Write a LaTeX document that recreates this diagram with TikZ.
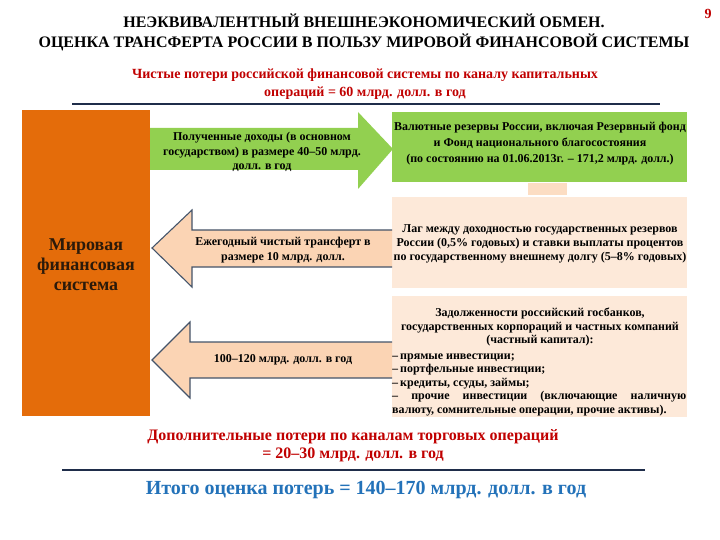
\documentclass[tikz,border=0pt]{standalone}
\usepackage{fontspec}
\setmainfont{Liberation Serif}
\definecolor{orng}{HTML}{E46C0A}
\definecolor{grn}{HTML}{92D050}
\definecolor{peach}{HTML}{FBD4B4}
\definecolor{pale}{HTML}{FDE9D9}
\definecolor{dred}{HTML}{C00000}
\definecolor{navy}{HTML}{1F2D4A}
\definecolor{edge}{HTML}{44546A}
\definecolor{blu}{HTML}{2372B9}
\definecolor{brn}{HTML}{2B1A0A}
\tikzset{
  fs/.style 2 args={font=\bfseries\fontsize{#1}{#2}\selectfont},
  lbl/.style={align=center, inner sep=0pt, fs={12}{14.5}},
  parrow/.style={fill=peach, draw=edge, line width=1.1pt, line join=miter},
}
\begin{document}
\begin{tikzpicture}[x=1pt,y=-1pt]
\useasboundingbox (0,0) rectangle (720,540);
% titles
\node[fs={16}{20}, align=center, inner sep=0pt] (title) at (364,32) {НЕЭКВИВАЛЕНТНЫЙ ВНЕШНЕЭКОНОМИЧЕСКИЙ ОБМЕН.\\ОЦЕНКА ТРАНСФЕРТА РОССИИ В ПОЛЬЗУ МИРОВОЙ ФИНАНСОВОЙ СИСТЕМЫ};
\node[fs={14}{16}, text=dred, inner sep=0pt] (num) at (708,14) {9};
\node[fs={14}{18}, text=dred, align=center, inner sep=0pt] (sub) at (365,84) {Чистые потери российской финансовой системы по каналу капитальных\\операций = 60 млрд. долл. в год};
\coordinate (l1a) at (72,104); \coordinate (l1b) at (660,104);
\draw[navy, line width=1.6pt] (l1a) -- (l1b);
% left box
\fill[orng] (22,110) rectangle (150,416);
\node[fs={18}{20}, text=brn, align=center, inner sep=0pt] (world) at (86,265) {Мировая\\финансовая\\система};
% green arrow
\fill[grn] (150,128) -- (358,128) -- (358,112) -- (393,149) -- (358,189) -- (358,170) -- (150,170) -- cycle;
\node[lbl] (inc) at (262,152) {Полученные доходы (в основном\\государством) в размере 40–50 млрд.\\долл. в год};
% green box
\fill[grn] (392,112) rectangle (687,182);
\node[lbl, fs={12}{16}] (res) at (540,144) {Валютные резервы России, включая Резервный фонд\\и Фонд национального благосостояния\\(по состоянию на 01.06.2013г. – 171,2 млрд. долл.)};
% small connector
\fill[peach!80!white] (528,183) rectangle (567,195);
% pale box 2
\fill[pale] (392,197) rectangle (687,288);
\node[lbl, fs={12}{14}] (lag) at (540,244) {Лаг между доходностью государственных резервов\\России (0,5\% годовых) и ставки выплаты процентов\\по государственному  внешнему долгу (5–8\% годовых)};
% pale box 3
\fill[pale] (392,296) rectangle (687,417);
\node[lbl, fs={12}{13.6}] (debt) at (540,327) {Задолженности российский госбанков,\\государственных корпораций и частных компаний\\(частный капитал):};
\node[fs={12}{13.6}, text width=294pt, align=justify, inner sep=0pt, anchor=base west] (list) at (392,359) {%
–\,прямые инвестиции;\\
–\,портфельные инвестиции;\\
–\,кредиты, ссуды, займы;\\
– прочие инвестиции (включающие наличную\linebreak валюту, сомнительные операции, прочие активы).};
% peach arrow 1
\draw[parrow] (392,230) -- (192,230) -- (192,210) -- (152,248) -- (192,287) -- (192,267) -- (392,267);
\node[lbl, fs={12}{15}] (tr) at (283,250) {Ежегодный чистый трансферт в\\размере 10 млрд. долл.};
% peach arrow 2
\draw[parrow] (392,342) -- (190,342) -- (190,322) -- (152,360) -- (190,398) -- (190,378) -- (392,378);
\node[lbl] (cap) at (283,360) {100–120 млрд. долл. в год};
% bottom
\node[fs={16}{18}, text=dred, align=center, inner sep=0pt] (add) at (353,446) {Дополнительные потери по каналам торговых операций\\= 20–30 млрд. долл. в год};
\coordinate (l2a) at (62,470); \coordinate (l2b) at (645,470);
\draw[navy, line width=1.3pt] (l2a) -- (l2b);
\node[fs={20}{22}, text=blu, inner sep=0pt] (tot) at (366,490) {Итого оценка потерь = 140–170 млрд. долл. в год};
\end{tikzpicture}
\end{document}
